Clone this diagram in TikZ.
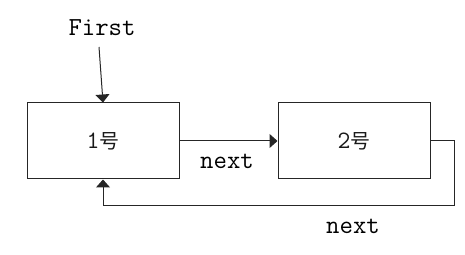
\documentclass[tikz,border=0pt]{standalone}
\usepackage{fontspec}
\setmonofont{Latin Modern Mono}
\newfontfamily\cjk{Noto Sans CJK SC}
\usetikzlibrary{arrows.meta}
\tikzset{
  box/.style={draw=black!85, line width=1pt, minimum width=152pt, minimum height=76pt, inner sep=0pt},
  arr/.style={draw=black!85, line width=1pt, -{Triangle[width=14pt,length=8pt]}},
  lbl/.style={font=\ttfamily\fontsize{26}{28}\selectfont, text=black, inner sep=0pt},
  cn/.style={text=black!90, inner sep=0pt}
}
\begin{document}
\begin{tikzpicture}[x=1pt,y=1pt]
\useasboundingbox (0,0) rectangle (465,254);
\node[box] (b1) at (103,113) {};
\node[box] (b2) at (354,113) {};
\node[cn] (t1) at (103,113) {\ttfamily\fontsize{25}{27}\selectfont 1\cjk\fontsize{20}{22}\selectfont 号};
\node[cn] (t2) at (354,113) {\ttfamily\fontsize{25}{27}\selectfont 2\cjk\fontsize{20}{22}\selectfont 号};
\node[lbl] (first) at (102,226) {First};
\node[lbl] (n1) at (227,93) {next};
\node[lbl] (n2) at (353,28) {next};
\coordinate (fs) at (99,207);
\coordinate (c1) at (454,48);
\draw[arr] (fs) -- (b1.north);
\draw[arr] (b1.east) -- (b2.west);
\draw[arr] (b2.east) -| (c1) -| (b1.south);
\end{tikzpicture}
\end{document}
